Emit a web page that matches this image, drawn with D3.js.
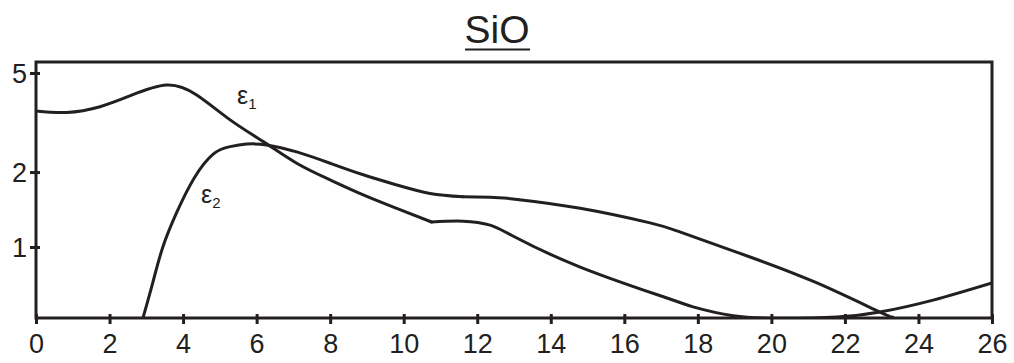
<!DOCTYPE html>
<html>
<head>
<meta charset="utf-8">
<script src="https://cdn.jsdelivr.net/npm/d3@7"></script>
<style>
  html, body { margin: 0; padding: 0; background: #fff; }
  svg { display: block; font-family: "Liberation Sans", Arial, Helvetica, sans-serif; }
</style>
</head>
<body>
<svg id="chart" width="1014" height="363"></svg>
<script>
// Dielectric function of SiO: real (ε1) and imaginary (ε2) parts vs photon energy
const energy1 = [0, 0.83, 1.74, 2.6, 3.55, 4.37, 5.28, 6.18, 7.09, 8.0, 8.9, 9.81, 10.76, 11.62, 12.35, 12.97, 14.8, 17.16, 17.87, 18.96, 20.3, 21.78, 22.95, 24.4, 26];
const eps1    = [3.52, 3.47, 3.66, 4.07, 4.47, 4.08, 3.24, 2.65, 2.17, 1.86, 1.62, 1.43, 1.26, 1.27, 1.225, 1.107, 0.831, 0.624, 0.575, 0.530, 0.517, 0.523, 0.548, 0.612, 0.717];
const kink1   = 10.76;

const energy2 = [2.91, 3.18, 3.45, 3.83, 4.30, 4.82, 5.28, 5.73, 6.27, 7.09, 8.0, 8.9, 9.81, 10.72, 11.62, 12.35, 12.97, 14.8, 16.7, 17.51, 19.42, 21.24, 22.95, 23.3];
const eps2    = [0.519, 0.723, 1.0, 1.38, 1.89, 2.36, 2.53, 2.59, 2.57, 2.41, 2.17, 1.95, 1.775, 1.64, 1.59, 1.585, 1.56, 1.43, 1.25, 1.15, 0.912, 0.717, 0.548, 0.523];
const kink2   = 11.62;

const xTicks = [0, 2, 4, 6, 8, 10, 12, 14, 16, 18, 20, 22, 24, 26];
const yTicks = [1, 2, 5];

const ink = "#231f20";
const svg = d3.select("#chart");

const plotLeft = 36, plotRight = 992, plotTop = 62, plotBottom = 318;
const x = d3.scaleLinear().domain([0, 26]).range([plotLeft, plotRight]);
const y = d3.scaleLog().domain([0.5187, 5.534]).range([plotBottom, plotTop]);

// title with underline
svg.append("text")
  .attr("x", 497).attr("y", 43)
  .attr("text-anchor", "middle")
  .attr("font-size", 39)
  .attr("fill", ink)
  .text("SiO");
svg.append("line")
  .attr("x1", 465).attr("x2", 530)
  .attr("y1", 49.5).attr("y2", 49.5)
  .attr("stroke", ink).attr("stroke-width", 2);

// clip region for the curves
svg.append("clipPath").attr("id", "plot-clip")
  .append("rect")
  .attr("x", plotLeft).attr("y", plotTop)
  .attr("width", plotRight - plotLeft).attr("height", plotBottom - plotTop);

const line = d3.line()
  .x(d => x(d[0]))
  .y(d => y(d[1]))
  .curve(d3.curveNatural);

// each curve is smooth on either side of its kink, so split there
function pieces(energies, values, kink) {
  const pts = d3.zip(energies, values);
  const k = energies.indexOf(kink);
  return [pts.slice(0, k + 1), pts.slice(k)];
}

const curves = svg.append("g").attr("clip-path", "url(#plot-clip)")
  .attr("fill", "none").attr("stroke", ink).attr("stroke-width", 3)
  .attr("stroke-linejoin", "round").attr("stroke-linecap", "round");
const segs = [...pieces(energy1, eps1, kink1), ...pieces(energy2, eps2, kink2)];
curves.selectAll("path").data(segs).join("path").attr("d", line);

// frame
svg.append("rect")
  .attr("x", plotLeft).attr("y", plotTop)
  .attr("width", plotRight - plotLeft).attr("height", plotBottom - plotTop)
  .attr("fill", "none").attr("stroke", ink).attr("stroke-width", 3);

// bottom axis
const gx = svg.append("g")
  .attr("transform", `translate(0,${plotBottom})`)
  .call(d3.axisBottom(x).tickValues(xTicks).tickFormat(d3.format("d")).tickSize(6).tickPadding(10));
gx.select(".domain").remove();
gx.selectAll(".tick line").attr("y1", -4).attr("y2", 6).attr("stroke", ink).attr("stroke-width", 3);
gx.selectAll(".tick text")
  .attr("font-size", 27).attr("fill", ink)
  .attr("font-family", "'Liberation Sans', Arial, sans-serif")
  .attr("y", 35).attr("dy", 0);

// left axis
const gy = svg.append("g")
  .attr("transform", `translate(${plotLeft},0)`)
  .call(d3.axisLeft(y).tickValues(yTicks).tickFormat(d3.format("d")).tickSize(6).tickPadding(8));
gy.select(".domain").remove();
gy.selectAll(".tick line").attr("x1", -6).attr("x2", 4).attr("stroke", ink).attr("stroke-width", 3);
gy.selectAll(".tick text")
  .attr("font-size", 27).attr("fill", ink)
  .attr("font-family", "'Liberation Sans', Arial, sans-serif")
  .attr("x", -9).attr("dy", "0.36em");

// curve labels
function epsLabel(px, py, sub) {
  const t = svg.append("text")
    .attr("x", px).attr("y", py)
    .attr("font-size", 25).attr("fill", ink);
  t.append("tspan").text("ε");
  t.append("tspan").attr("font-size", 15).attr("dy", 5).text(sub);
}
epsLabel(237, 104, "1");
epsLabel(201, 203, "2");
</script>
</body>
</html>
